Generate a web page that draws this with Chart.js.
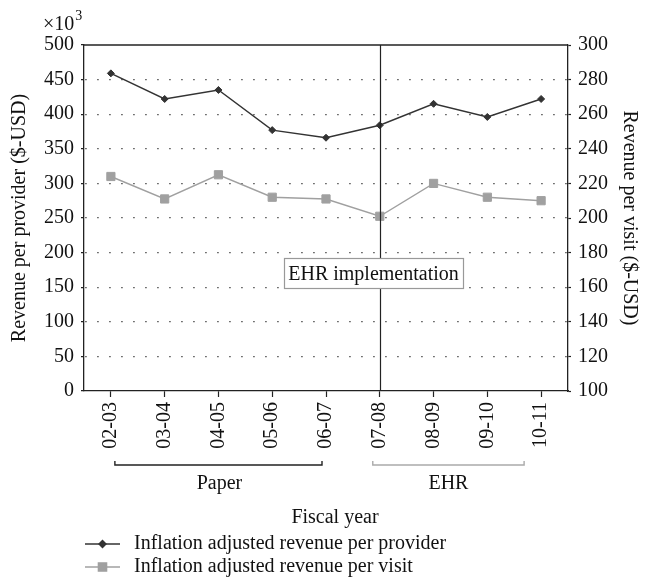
<!DOCTYPE html>
<html><head><meta charset="utf-8">
<script src="https://cdn.jsdelivr.net/npm/chart.js@4/dist/chart.umd.min.js"></script>
<style>html,body{margin:0;padding:0;background:#fff}#wrap{width:649px;height:586px;position:relative}canvas{display:block}</style>
</head><body><div id="wrap"><canvas id="c" width="649" height="586"></canvas></div>
<script>
// ---- data ----
const fiscalYears = ['02-03','03-04','04-05','05-06','06-07','07-08','08-09','09-10','10-11'];
const revenuePerProvider = [459, 422, 435, 377, 366, 384, 415, 396, 422]; // ×10^3 $-USD
const revenuePerVisit = [224, 211, 225, 212, 211, 201, 220, 212, 210];     // $-USD
const providerTicks = { min: 0, max: 500, step: 50 };
const visitTicks = { min: 100, max: 300, step: 20 };
const seriesNames = ['Inflation adjusted revenue per provider', 'Inflation adjusted revenue per visit'];
const periodNames = ['Paper', 'EHR'];
const annotationText = 'EHR implementation';
const implementationIndex = 5;

const SERIF = '"Liberation Serif", "Times New Roman", serif';
const FS = 20;
const DARK = '#333333';
const GRAY = '#a0a0a0';

const extras = {
  id: 'extras',
  afterDraw(chart) {
    const {ctx, chartArea: a, scales} = chart;
    const x = scales.x, y = scales.y;
    ctx.save();
    // top frame line
    ctx.strokeStyle = '#222'; ctx.lineWidth = 1.3;
    ctx.beginPath(); ctx.moveTo(a.left, a.top); ctx.lineTo(a.right, a.top); ctx.stroke();
    // implementation line
    const xi = Math.round(x.getPixelForValue(implementationIndex)) + 0.5;
    ctx.lineWidth = 1.2;
    ctx.beginPath(); ctx.moveTo(xi, a.top); ctx.lineTo(xi, a.bottom); ctx.stroke();
    // annotation box
    ctx.font = FS + 'px ' + SERIF;
    const tw = ctx.measureText(annotationText).width;
    const cx = xi - 7, cy = y.getPixelForValue(170);
    const bw = tw + 8, bh = 30;
    ctx.fillStyle = '#fff'; ctx.fillRect(cx - bw/2, cy - bh/2, bw, bh);
    ctx.strokeStyle = '#999'; ctx.lineWidth = 1.2;
    ctx.strokeRect(Math.round(cx - bw/2) + 0.5, Math.round(cy - bh/2) + 0.5, Math.round(bw), bh);
    ctx.fillStyle = '#111'; ctx.textAlign = 'center'; ctx.textBaseline = 'middle';
    ctx.fillText(annotationText, cx, cy + 1);
    // ×10^3
    ctx.textAlign = 'left'; ctx.textBaseline = 'alphabetic';
    ctx.fillText('\u00d710', 43, 30);
    const w10 = ctx.measureText('\u00d710').width;
    ctx.font = '14px ' + SERIF;
    ctx.fillText('3', 43 + w10 + 1, 20);
    // period brackets
    const by = 465;
    const drawBracket = (x1, x2, color) => {
      ctx.strokeStyle = color; ctx.lineWidth = 1.4;
      ctx.beginPath(); ctx.moveTo(x1, by - 4); ctx.lineTo(x1, by); ctx.lineTo(x2, by); ctx.lineTo(x2, by - 4); ctx.stroke();
    };
    const p0 = x.getPixelForValue(0), p4 = x.getPixelForValue(4), p5 = x.getPixelForValue(5), p8 = x.getPixelForValue(8);
    drawBracket(p0 + 4, p4 - 4, '#222');
    drawBracket(p5 - 7, p8 - 17, '#aaa');
    ctx.font = FS + 'px ' + SERIF; ctx.fillStyle = '#111';
    ctx.textAlign = 'center'; ctx.textBaseline = 'middle';
    ctx.fillText(periodNames[0], (p0 + p4) / 2 + 1, 484);
    ctx.fillText(periodNames[1], (p5 + p8 - 24) / 2, 484);
    ctx.fillText('Fiscal year', 335, 518);
    // legend
    const ly = [544, 567];
    chart.data.datasets.forEach((ds, i) => {
      ctx.strokeStyle = ds.borderColor; ctx.lineWidth = ds.borderWidth;
      ctx.beginPath(); ctx.moveTo(85, ly[i]); ctx.lineTo(120, ly[i]); ctx.stroke();
      ctx.fillStyle = ds.pointBackgroundColor; ctx.strokeStyle = ds.pointBorderColor;
      Chart.helpers.drawPoint(ctx, {pointStyle: ds.pointStyle, radius: ds.pointRadius, borderWidth: 1}, 102.5, ly[i]);
      ctx.fillStyle = '#111'; ctx.textAlign = 'left'; ctx.textBaseline = 'middle';
      ctx.fillText(seriesNames[i], 134, ly[i]);
    });
    ctx.restore();
  }
};

new Chart(document.getElementById('c'), {
  type: 'line',
  data: {
    labels: fiscalYears,
    datasets: [
      { label: seriesNames[0], data: revenuePerProvider, yAxisID: 'y',
        borderColor: DARK, borderWidth: 1.4, pointStyle: 'rectRot', pointRadius: 3.5,
        pointBackgroundColor: DARK, pointBorderColor: DARK, pointBorderWidth: 1, tension: 0 },
      { label: seriesNames[1], data: revenuePerVisit, yAxisID: 'y1',
        borderColor: GRAY, borderWidth: 1.4, pointStyle: 'rect', pointRadius: 5.8,
        pointBackgroundColor: GRAY, pointBorderColor: GRAY, pointBorderWidth: 1, tension: 0 }
    ]
  },
  options: {
    responsive: false, animation: false, devicePixelRatio: 1,
    layout: { padding: { top: 45, left: 0, right: 0, bottom: 0 } },
    plugins: { legend: { display: false }, tooltip: { enabled: false } },
    scales: {
      x: {
        type: 'category', offset: true,
        afterFit: s => { s.height = 195; },
        grid: { drawOnChartArea: false, drawTicks: true, tickLength: 6, color: '#222', tickColor: '#222', tickWidth: 1.2 },
        border: { display: true, color: '#222', width: 1.3 },
        ticks: { minRotation: 90, maxRotation: 90, padding: 5, color: '#111', font: { family: SERIF, size: FS }, autoSkip: false }
      },
      y: {
        position: 'left', min: providerTicks.min, max: providerTicks.max,
        afterFit: s => { s.width = 84; },
        ticks: { stepSize: providerTicks.step, padding: 7, color: '#111', font: { family: SERIF, size: FS } },
        grid: {
          drawOnChartArea: true, tickLength: 3, tickColor: '#222', tickWidth: 1.2, lineWidth: 1.3,
          color: c => (c.tick && (c.tick.value === providerTicks.min || c.tick.value === providerTicks.max)) ? 'rgba(0,0,0,0)' : '#333'
        },
        border: { display: true, color: '#222', width: 1.3, dash: [1.3, 10.7], dashOffset: -1 },
        title: { display: true, text: 'Revenue per provider ($-USD)', color: '#111', font: { family: SERIF, size: FS }, padding: { top: 8, bottom: 0 } }
      },
      y1: {
        position: 'right', min: visitTicks.min, max: visitTicks.max,
        afterFit: s => { s.width = 81; },
        ticks: { stepSize: visitTicks.step, padding: 7, color: '#111', font: { family: SERIF, size: FS } },
        grid: { drawOnChartArea: false, tickLength: 3, color: '#222', tickColor: '#222', tickWidth: 1.2 },
        border: { display: true, color: '#222', width: 1.3 },
        title: { display: true, text: 'Revenue per visit ($-USD)', color: '#111', font: { family: SERIF, size: FS }, padding: { top: 8, bottom: 0 } }
      }
    }
  },
  plugins: [extras]
});
</script></body></html>
